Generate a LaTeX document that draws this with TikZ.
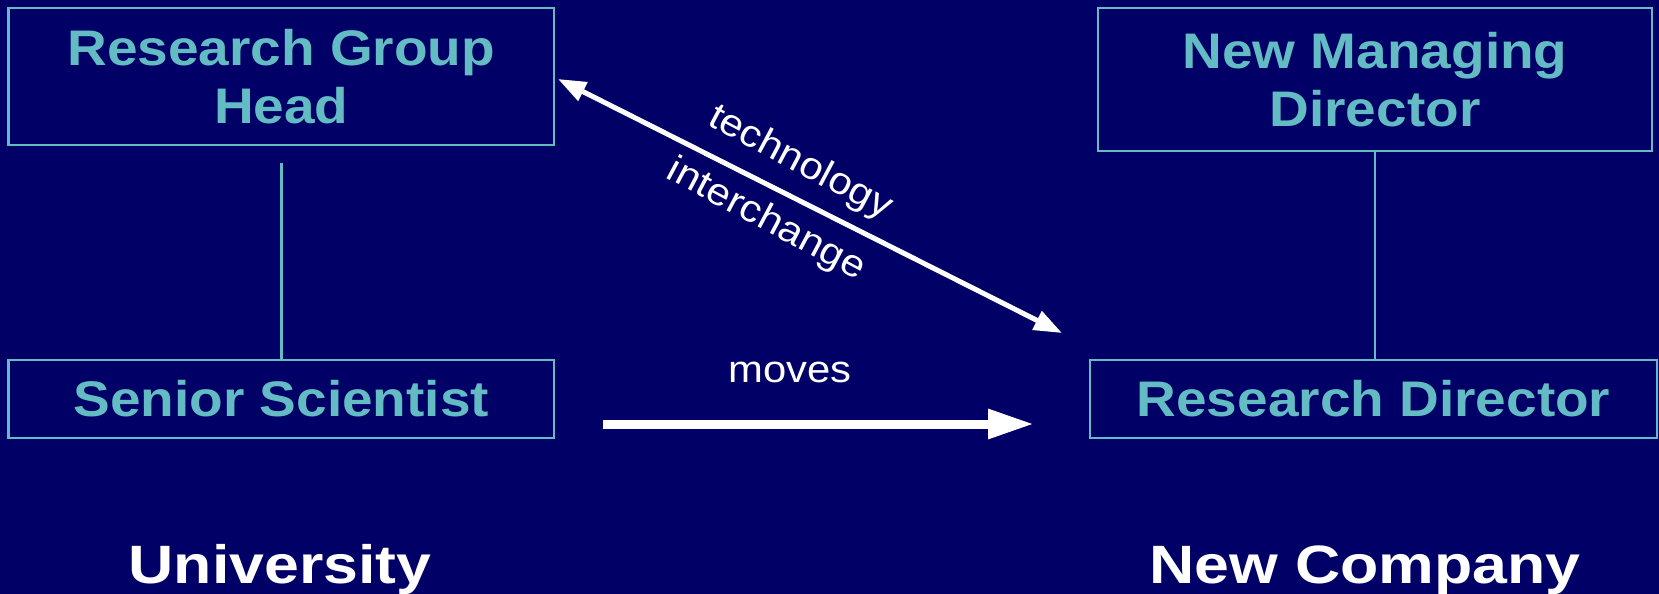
\documentclass[tikz,border=0pt]{standalone}
\usepackage{fontspec}
\setmainfont{Liberation Sans}
\usetikzlibrary{arrows.meta}
\definecolor{navy}{RGB}{0,0,102}
\definecolor{teal}{RGB}{99,187,196}
\newfontfamily\boxfont[FakeStretch=1.1]{Liberation Sans Bold}
\newfontfamily\labelfont[FakeStretch=1.1]{Liberation Sans}
\newfontfamily\placefont[FakeStretch=1.16]{Liberation Sans Bold}
\tikzset{
  x=1pt, y=-1pt,
  rolebox/.style={draw=teal, line width=2.2pt, text=teal, align=center,
    inner sep=0pt, font=\boxfont\fontsize{50}{58}\selectfont},
  link/.style={draw=teal, line width=2.8pt},
  flow/.style={draw=white, line width=5pt},
  edgelabel/.style={text=white, font=\labelfont\fontsize{38}{44}\selectfont, inner sep=0pt},
  place/.style={text=white, anchor=base, font=\placefont\fontsize{54}{60}\selectfont, inner sep=0pt}
}
\begin{document}
\begin{tikzpicture}
  \fill[navy] (0,0) rectangle (1659,594);
  \useasboundingbox (0,0) rectangle (1659,594);

  % university side
  \node[rolebox, minimum width=545.5pt, minimum height=136.6pt] (rgh) at (281.25,76.7)
    {Research Group\\Head};
  \node[rolebox, minimum width=545.5pt, minimum height=78pt] (ss) at (281.25,399)
    {Senior Scientist};

  % company side
  \node[rolebox, minimum width=554pt, minimum height=142.6pt] (nmd) at (1375,79.7)
    {New Managing\\Director};
  \node[rolebox, minimum width=567pt, minimum height=78pt] (rd) at (1373.5,399)
    {Research Director};

  % reporting lines
  \draw[link, shorten <=17pt] (rgh.south) -- (ss.north);
  \draw[link] (nmd.south) -- (nmd.south |- rd.north);

  % technology interchange
  \coordinate (ti-a) at (558,79);
  \coordinate (ti-b) at (1062,333);
  \draw[flow, {Triangle[length=28pt,width=20pt]}-{Triangle[length=28pt,width=20pt]}] (ti-a) -- (ti-b);
  \node[edgelabel, rotate=-28] (tech) at (800,163) {technology};
  \node[edgelabel, rotate=-28] (inter) at (766,220) {interchange};

  % move of the scientist
  \coordinate (mv-a) at (603,424);
  \coordinate (mv-b) at (1034,424);
  \draw[draw=white, line width=9pt, -{Triangle[length=46pt,width=28pt]}] (mv-a) -- (mv-b);
  \node[edgelabel] (moves) at (790,372) {moves};

  % organisations
  \node[place] (uni) at (280,583) {University};
  \node[place] (newco) at (1365,583) {New Company};
\end{tikzpicture}
\end{document}
